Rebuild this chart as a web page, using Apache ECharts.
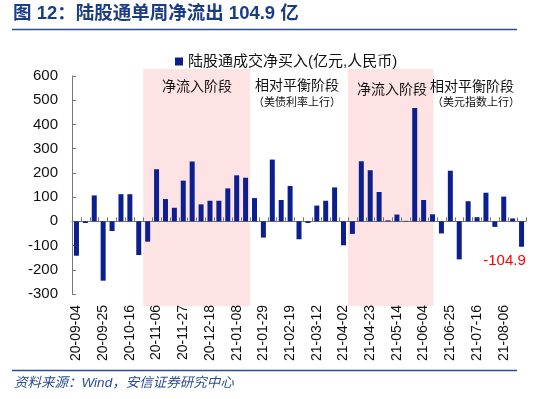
<!DOCTYPE html>
<html>
<head>
<meta charset="utf-8">
<script src="https://cdn.jsdelivr.net/npm/echarts@6/dist/echarts.min.js"></script>
<style>
  html, body { margin: 0; padding: 0; background: #fff; }
  #chart { width: 550px; height: 399px; }
</style>
</head>
<body>
<div id="chart"></div>
<script>
// 周度日期（每周五）
var weeks = [
  '20-09-04','20-09-11','20-09-18','20-09-25','20-10-02','20-10-09','20-10-16','20-10-23','20-10-30',
  '20-11-06','20-11-13','20-11-20','20-11-27','20-12-04','20-12-11','20-12-18','20-12-25','21-01-01',
  '21-01-08','21-01-15','21-01-22','21-01-29','21-02-05','21-02-12','21-02-19','21-02-26','21-03-05',
  '21-03-12','21-03-19','21-03-26','21-04-02','21-04-09','21-04-16','21-04-23','21-04-30','21-05-07',
  '21-05-14','21-05-21','21-05-28','21-06-04','21-06-11','21-06-18','21-06-25','21-07-02','21-07-09',
  '21-07-16','21-07-23','21-07-30','21-08-06','21-08-13','21-08-20'
];
// 陆股通成交净买入(亿元)
var netBuy = [
  -142, -7, 107, -245, -40, 112, 112, -139, -84,
  215, 92, 56, 168, 247, 70, 85, 85, 136,
  190, 180, 96, -67, 255, 88, 146, -74, -7,
  65, 85, 140, -99, -52, 248, 211, 121, 4,
  28, 2, 468, 88, 29, -50, 209, -157, 83,
  17, 118, -23, 102, 12, -104.9
];
// 阶段色带（类目序号）
var bandStart = [8, 31];
var bandEnd = [20, 40.6];

var FONT = 'Liberation Sans, Arial, Noto Sans CJK SC, sans-serif';
var chart = echarts.init(document.getElementById('chart'));

var barData = netBuy.map(function (v, i) {
  if (i === netBuy.length - 1) {
    return {
      value: v,
      label: {
        show: true, position: 'bottom', offset: [-17, 2],
        color: '#ff0000', fontSize: 15, fontFamily: FONT,
        formatter: function (p) { return p.value.toFixed(1); }
      }
    };
  }
  return v;
});

chart.setOption({
  animation: false,
  textStyle: { fontFamily: FONT },
  grid: [
    { left: 72, right: 24, top: 76, bottom: 105 },
    { left: 72, right: 24, top: 69, bottom: 93 }
  ],
  xAxis: [
    {
      type: 'category', gridIndex: 0, data: weeks,
      axisLine: { onZero: true, lineStyle: { color: '#777' } },
      axisTick: { show: true, inside: true, length: 4, interval: 0, lineStyle: { color: '#777' } },
      axisLabel: { show: false }
    },
    {
      type: 'category', gridIndex: 0, data: weeks, position: 'bottom',
      axisLine: { show: false, onZero: false },
      axisTick: { show: false },
      axisLabel: {
        interval: 2, rotate: 90, color: '#111', fontSize: 14, fontFamily: FONT, margin: 11
      }
    },
    {
      type: 'value', gridIndex: 1, min: 0, max: netBuy.length, show: false
    }
  ],
  yAxis: [
    {
      type: 'value', gridIndex: 0, min: -300, max: 600, interval: 100,
      axisLine: { show: true, lineStyle: { color: '#777' } },
      axisTick: { show: true, inside: true, length: 4, lineStyle: { color: '#777' } },
      splitLine: { show: false },
      axisLabel: { color: '#111', fontSize: 15, fontFamily: FONT, margin: 14 }
    },
    { type: 'value', gridIndex: 1, min: 0, max: 1, show: false }
  ],
  legend: {
    data: [{ name: '陆股通成交净买入(亿元,人民币)', icon: 'rect' }],
    left: 170, top: 49, itemWidth: 8, itemHeight: 8, itemGap: 4,
    textStyle: { fontSize: 15, color: '#111', fontFamily: FONT }
  },
  series: [
    {
      type: 'custom', xAxisIndex: 2, yAxisIndex: 1, z: 0, silent: true,
      data: bandStart.map(function (s, i) { return [s, bandEnd[i]]; }),
      renderItem: function (params, api) {
        var p0 = api.coord([api.value(0), 1]);
        var p1 = api.coord([api.value(1), 0]);
        return {
          type: 'rect',
          shape: { x: p0[0], y: p0[1], width: p1[0] - p0[0], height: p1[1] - p0[1] },
          style: { fill: '#fde3e3' }
        };
      }
    },
    {
      name: '陆股通成交净买入(亿元,人民币)',
      type: 'bar', xAxisIndex: 0, yAxisIndex: 0, z: 2,
      data: barData, barWidth: 5,
      itemStyle: { color: '#0b1f8f' }
    }
  ],
  graphic: [
    { type: 'text', z: 100, left: 13, top: 5, style: { text: '图 12：陆股通单周净流出 104.9 亿', fill: '#1b3c86', font: 'bold 18.5px ' + FONT } },
    { type: 'line', z: 100, shape: { x1: 12, y1: 29.5, x2: 517, y2: 29.5 }, style: { stroke: '#2a4d96', lineWidth: 1.5 } },
    { type: 'line', z: 100, shape: { x1: 12, y1: 370.5, x2: 517, y2: 370.5 }, style: { stroke: '#2a4d96', lineWidth: 1.5 } },
    { type: 'text', z: 100, left: 14, top: 376, style: { text: '资料来源：Wind，安信证券研究中心', fill: '#2a4d96', font: 'italic 13.5px ' + FONT } },
    { type: 'text', z: 100, left: 162, top: 80, style: { text: '净流入阶段', fill: '#111', font: '14px ' + FONT } },
    { type: 'text', z: 100, left: 255, top: 79, style: { text: '相对平衡阶段', fill: '#111', font: '14px ' + FONT } },
    { type: 'text', z: 100, left: 253, top: 97, style: { text: '（美债利率上行）', fill: '#111', font: '11px ' + FONT } },
    { type: 'text', z: 100, left: 357, top: 83, style: { text: '净流入阶段', fill: '#111', font: '14px ' + FONT } },
    { type: 'text', z: 100, left: 430, top: 80, style: { text: '相对平衡阶段', fill: '#111', font: '14px ' + FONT } },
    { type: 'text', z: 100, left: 432, top: 97, style: { text: '（美元指数上行）', fill: '#111', font: '11px ' + FONT } }
  ]
});
</script>
</body>
</html>
